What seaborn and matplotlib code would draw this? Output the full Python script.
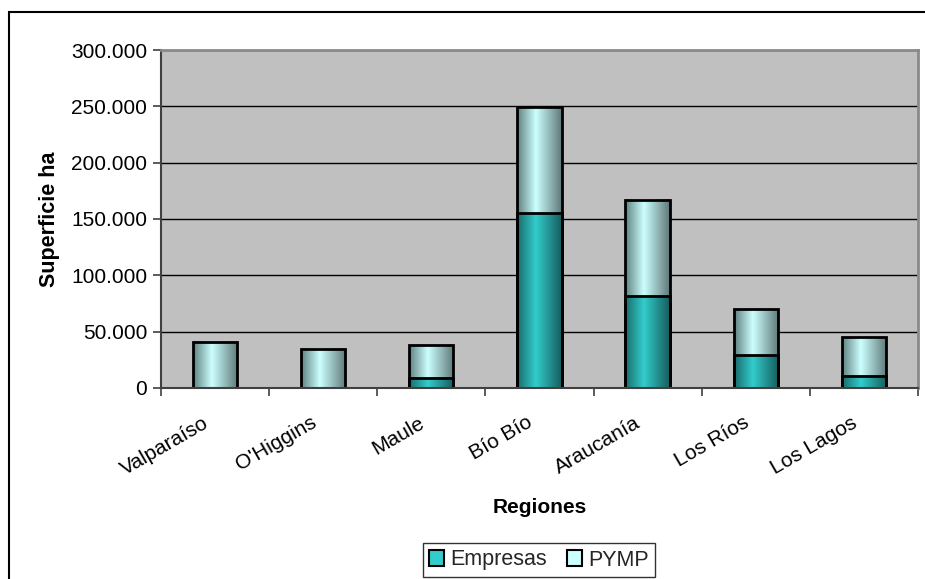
import numpy as np
import pandas as pd
import seaborn as sns
import matplotlib
matplotlib.use('Agg')
import matplotlib.pyplot as plt
from matplotlib.colors import LinearSegmentedColormap
from matplotlib.patches import Rectangle, Patch
from matplotlib.ticker import FuncFormatter, FixedLocator
from matplotlib.transforms import ScaledTranslation

# datos (superficie en ha)
regiones = ['Valparaíso', "O'Higgins", 'Maule', 'Bío Bío', 'Araucanía', 'Los Ríos', 'Los Lagos']
empresas = [0, 0, 9000, 155000, 82000, 29000, 11000]
pymp = [41000, 35000, 29000, 94000, 85000, 41000, 34000]
series = ['Empresas', 'PYMP']
y_ticks = [0, 50000, 100000, 150000, 200000, 250000, 300000]

df = pd.DataFrame({'Region': regiones, 'Empresas': empresas, 'PYMP': pymp})
df['Total'] = df['Empresas'] + df['PYMP']

sns.set_theme(style='white')
plt.rcParams['font.family'] = ['Liberation Sans', 'DejaVu Sans']

cmap_emp = LinearSegmentedColormap.from_list('emp', [(0, '#1a6a6a'), (0.42, '#33cccc'), (1, '#165c5c')])
cmap_pym = LinearSegmentedColormap.from_list('pym', [(0, '#5f7f7f'), (0.42, '#ccffff'), (1, '#5f7878')])

fig, ax = plt.subplots(figsize=(9.25, 5.79), dpi=100)
fig.subplots_adjust(left=0.174, right=0.9924, bottom=0.33, top=0.9136)

# barras apiladas: total (PYMP arriba) y Empresas encima
sns.barplot(data=df, x='Region', y='Total', color='#ccffff', width=0.41,
            edgecolor='black', linewidth=2, errorbar=None, ax=ax)
n_tot = len(ax.patches)
sns.barplot(data=df, x='Region', y='Empresas', color='#33cccc', width=0.41,
            edgecolor='black', linewidth=2, errorbar=None, ax=ax)

grad = np.linspace(0, 1, 256).reshape(1, -1)
for i, p in enumerate(ax.patches):
    x, y, w, h = p.get_x(), p.get_y(), p.get_width(), p.get_height()
    cm = cmap_pym if i < n_tot else cmap_emp
    z = 1.2 if i < n_tot else 1.4
    if h > 0:
        ax.imshow(grad, extent=[x, x + w, y, y + h], aspect='auto', cmap=cm,
                  interpolation='bilinear', zorder=z)
    p.set_facecolor('none')
    p.set_zorder(2)

ax.set_xlim(-0.5, len(regiones) - 0.5)
ax.set_ylim(0, 300000)
ax.set_facecolor('#c0c0c0')

ax.yaxis.set_major_locator(FixedLocator(y_ticks))
ax.yaxis.set_major_formatter(FuncFormatter(lambda v, _: f'{int(v):,}'.replace(',', '.')))
ax.yaxis.grid(True, color='black', linewidth=1)
ax.set_axisbelow(True)

ax.xaxis.set_minor_locator(FixedLocator(np.arange(-0.5, len(regiones), 1.0)))
ax.tick_params(axis='x', which='major', length=0, pad=24, labelsize=15, labelcolor='black')
ax.tick_params(axis='x', which='minor', bottom=True, length=6, width=1.2, color='#404040')
ax.tick_params(axis='y', left=True, length=6, width=1.2, color='#404040', labelsize=15,
               labelcolor='black', pad=4)
shift = ScaledTranslation(-6 / 72, 0, fig.dpi_scale_trans)
for lbl in ax.get_xticklabels():
    lbl.set_rotation(30)
    lbl.set_ha('right')
    lbl.set_va('center')
    lbl.set_rotation_mode('anchor')
    lbl.set_transform(lbl.get_transform() + shift)

for s in ['left', 'bottom']:
    ax.spines[s].set_color('#404040')
    ax.spines[s].set_linewidth(1.5)
for s in ['top', 'right']:
    ax.spines[s].set_color('#8a8a8a')
    ax.spines[s].set_linewidth(2)

ax.set_ylabel('Superficie ha', fontsize=15.5, fontweight='bold', labelpad=8, color='black')
ax.set_xlabel('Regiones', fontsize=15, fontweight='bold', labelpad=14, color='black')

handles = [Patch(facecolor='#33cccc', edgecolor='black', linewidth=1.5),
           Patch(facecolor='#ccffff', edgecolor='black', linewidth=1.5)]
leg = fig.legend(handles, series, loc='center', bbox_to_anchor=(539 / 925, 1 - 560 / 579),
                 ncol=2, fontsize=15.5, frameon=True, fancybox=False, handlelength=0.7,
                 handleheight=0.7, handletextpad=0.3, columnspacing=0.9,
                 borderpad=0.3, borderaxespad=0, edgecolor='black')
leg.get_frame().set_linewidth(1)

# marco exterior del gráfico
fig.patches.append(Rectangle((9 / 925, -0.01), 1.0, 1 - 12 / 579 + 0.01,
                             transform=fig.transFigure, fill=False,
                             edgecolor='black', linewidth=1.5))

fig.savefig('out.png', dpi=100)
